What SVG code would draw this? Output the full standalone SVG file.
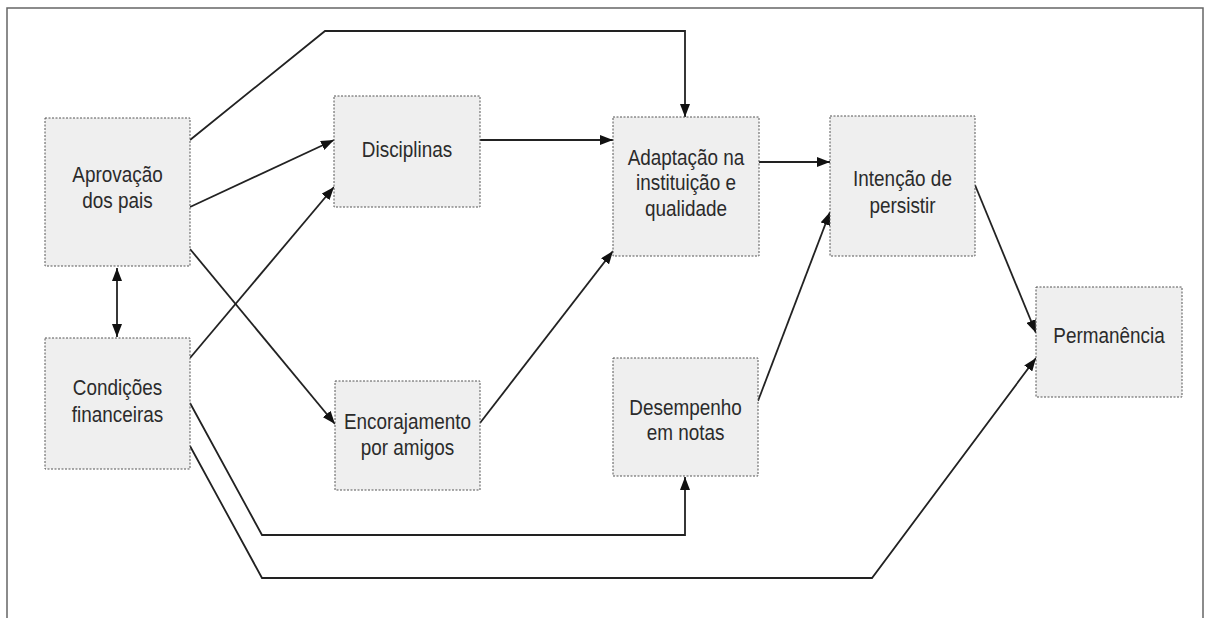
<svg xmlns="http://www.w3.org/2000/svg" width="1205" height="618" viewBox="0 0 1205 618">
  <style>
    .box { fill: #efefef; stroke: #555; stroke-width: 1; stroke-dasharray: 2 1.5; }
    .lbl { font-family: "Liberation Sans", Arial, sans-serif; font-size: 22px; fill: #2b2b2b; text-anchor: middle; }
    .edge { fill: none; stroke: #222; stroke-width: 1.8; stroke-linejoin: miter; }
    .frame { fill: none; stroke: #666; stroke-width: 1.5; }
  </style>
  <defs>
    <marker id="arrow" viewBox="0 0 13 10" refX="13" refY="5" markerWidth="13" markerHeight="10" markerUnits="userSpaceOnUse" orient="auto-start-reverse">
      <path d="M0,0 L13,5 L0,10 z" fill="#111"/>
    </marker>
  </defs>

  <rect width="1205" height="618" fill="#fff"/>
  <!-- open-bottom frame -->
  <path class="frame" d="M7,618 L7,8 L1203,8 L1203,618"/>

  <g id="connectors">
    <!-- Aprovação dos pais -->
    <path class="edge" d="M190,140 L325,31 L685,31 L685,117" marker-end="url(#arrow)"/>
    <path class="edge" d="M190,207 L334,140" marker-end="url(#arrow)"/>
    <path class="edge" d="M190,249 L335,424" marker-end="url(#arrow)"/>
    <!-- mutual link -->
    <path class="edge" d="M117,268 L117,337" marker-start="url(#arrow)" marker-end="url(#arrow)"/>
    <!-- Condições financeiras -->
    <path class="edge" d="M190,358 L334,187" marker-end="url(#arrow)"/>
    <path class="edge" d="M190,403 L262,535 L685,535 L685,477" marker-end="url(#arrow)"/>
    <path class="edge" d="M190,446 L262,578 L872,578 L1036,358" marker-end="url(#arrow)"/>
    <!-- middle layer -->
    <path class="edge" d="M480,140 L613,140" marker-end="url(#arrow)"/>
    <path class="edge" d="M480,423 L613,251" marker-end="url(#arrow)"/>
    <path class="edge" d="M759,162 L830,162" marker-end="url(#arrow)"/>
    <path class="edge" d="M758,401 L830,212" marker-end="url(#arrow)"/>
    <path class="edge" d="M975,185 L1036,333" marker-end="url(#arrow)"/>
  </g>

  <g id="aprovacao">
    <rect class="box" x="45" y="118" width="145" height="148"/>
    <text class="lbl" transform="translate(117.5 0) scale(0.86 1)" x="0" y="182">Aprovação</text>
    <text class="lbl" transform="translate(117.5 0) scale(0.86 1)" x="0" y="208">dos pais</text>
  </g>

  <g id="condicoes">
    <rect class="box" x="45" y="338" width="145" height="131"/>
    <text class="lbl" transform="translate(117.5 0) scale(0.86 1)" x="0" y="395">Condições</text>
    <text class="lbl" transform="translate(117.5 0) scale(0.86 1)" x="0" y="422">financeiras</text>
  </g>

  <g id="disciplinas">
    <rect class="box" x="334" y="96" width="146" height="111"/>
    <text class="lbl" transform="translate(407 0) scale(0.86 1)" x="0" y="157">Disciplinas</text>
  </g>

  <g id="encorajamento">
    <rect class="box" x="335" y="381" width="145" height="109"/>
    <text class="lbl" transform="translate(407.5 0) scale(0.86 1)" x="0" y="429">Encorajamento</text>
    <text class="lbl" transform="translate(407.5 0) scale(0.86 1)" x="0" y="455">por amigos</text>
  </g>

  <g id="adaptacao">
    <rect class="box" x="613" y="117" width="146" height="139"/>
    <text class="lbl" transform="translate(686 0) scale(0.86 1)" x="0" y="165">Adaptação na</text>
    <text class="lbl" transform="translate(686 0) scale(0.86 1)" x="0" y="190">instituição e</text>
    <text class="lbl" transform="translate(686 0) scale(0.86 1)" x="0" y="216">qualidade</text>
  </g>

  <g id="desempenho">
    <rect class="box" x="613" y="358" width="145" height="118"/>
    <text class="lbl" transform="translate(685.5 0) scale(0.86 1)" x="0" y="415">Desempenho</text>
    <text class="lbl" transform="translate(685.5 0) scale(0.86 1)" x="0" y="440">em notas</text>
  </g>

  <g id="intencao">
    <rect class="box" x="830" y="116" width="145" height="140"/>
    <text class="lbl" transform="translate(902.5 0) scale(0.86 1)" x="0" y="186">Intenção de</text>
    <text class="lbl" transform="translate(902.5 0) scale(0.86 1)" x="0" y="213">persistir</text>
  </g>

  <g id="permanencia">
    <rect class="box" x="1036" y="287" width="146" height="110"/>
    <text class="lbl" transform="translate(1109 0) scale(0.86 1)" x="0" y="343">Permanência</text>
  </g>
</svg>
